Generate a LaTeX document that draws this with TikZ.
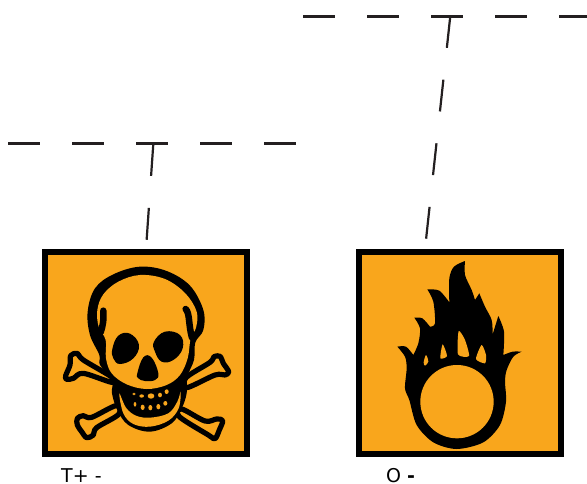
\documentclass[tikz,border=0pt]{standalone}
\usepackage{fontspec}
\setmainfont{DejaVu Sans}
\definecolor{hazardorange}{HTML}{F9A61C}
\definecolor{lineblack}{HTML}{231F20}
\begin{document}
\begin{tikzpicture}
[x=1pt, y=-1pt, font=\fontsize{19}{23}\selectfont]

\tikzstyle{panel}=[rectangle, draw=black, fill=hazardorange, line width=6pt, inner sep=0mm, minimum size=202pt]
\tikzstyle{tag}=[anchor=base west, inner sep=0mm]
\tikzstyle{level}=[draw=lineblack, line width=2.2pt, dash pattern=on 32pt off 32pt]
\tikzstyle{bone}=[draw=black, fill=hazardorange, line width=5.2pt, line join=round]
\tikzstyle{ink}=[fill=black]
\tikzstyle{cut}=[fill=hazardorange]

\useasboundingbox (0,0) rectangle (587,483);

\node[panel]	(Tpanel)	at (146,353)	{};
\node[panel]	(Opanel)	at (460,353)	{};
\node[tag]	(Ttag)	at (61,482.5)	{T+ -};
\node[tag]	(Otag)	at (386,482.5)	{O \textbf{-}};

\coordinate	(TlevelL)	at (8,143.5);
\coordinate	(TlevelR)	at (296,143.5);
\coordinate	(OlevelL)	at (303,16.5);
\coordinate	(OlevelR)	at (587,16.5);
\coordinate	(Tdrop)	at (153.3,144);
\coordinate	(Odrop)	at (450.3,16);
\coordinate	(Oend)	at (425,249);

\draw [level] (TlevelL)--(TlevelR);
\draw [level] (OlevelL)--(OlevelR);
\draw [level] (Tdrop)--(Tpanel.north);
\draw [level] (Odrop)--(Oend);

% skull
\begin{scope}[shift={(40,245)}, scale=1/3]
\path[bone] plot[smooth cycle, tension=.55] coordinates {(77,392) (90,360) (92,332) (112,325) (130,345) (218,398) (215,412) (130,385) (100,400) (80,403)};
\path[bone] plot[smooth cycle, tension=.55] coordinates {(438,398) (510,352) (522,335) (540,334) (550,355) (566,380) (555,390) (525,390) (440,428)};
\path[bone] plot[smooth cycle, tension=.55] coordinates {(112,520) (130,512) (155,517) (228,482) (236,508) (170,548) (160,570) (140,578) (125,560) (112,540)};
\path[bone] plot[smooth cycle, tension=.55] coordinates {(425,492) (495,528) (530,522) (548,527) (538,555) (525,581) (505,570) (418,515)};

\path[ink] plot[smooth cycle, tension=.6] coordinates {(178,330) (150,270) (143,200) (165,130) (220,88) (300,65) (380,78) (450,122) (490,195) (490,255) (466,292) (462,345) (442,395) (440,445) (425,490) (395,535) (330,560) (265,540) (232,495) (216,445) (216,405) (180,360)};
\path[cut] plot[smooth cycle, tension=.6] coordinates {(300,90) (375,102) (436,145) (470,200) (468,248) (452,280) (443,340) (420,390) (380,420) (320,432) (260,418) (215,385) (198,340) (197,285) (176,245) (172,195) (190,148) (235,110)};
\draw[black, line width=6.5pt, line cap=round] (190,197) .. controls (192,225) and (188,245) .. (182,262);
\draw[black, line width=6.5pt, line cap=round] (437,192) .. controls (450,205) and (445,240) .. (456,278);
\path[cut] plot[smooth cycle, tension=.6] coordinates {(238,445) (258,488) (288,512) (330,518) (385,505) (412,470) (422,440) (416,490) (385,527) (330,545) (280,537) (250,505)};

\foreach \tx/\ty/\ta/\tb in {282/447/5/4, 305/453/7/5, 333/453/10/8, 360/450/6/7, 380/440/6/7, 285/478/4/7, 308/487/6/8, 331/488/6/8, 355/485/6/8, 376/475/6/7}
	\path[cut] (\tx,\ty) ellipse [x radius=\ta, y radius=\tb];

\path[ink] plot[smooth cycle, tension=.7] coordinates {(217,312) (235,272) (270,266) (297,300) (280,340) (240,357) (220,340)};
\path[ink] plot[smooth cycle, tension=.7] coordinates {(342,290) (375,260) (420,270) (428,310) (400,345) (365,350) (345,320)};
\path[ink] plot[smooth cycle, tension=.7] coordinates {(292,385) (310,337) (335,338) (355,385) (345,405) (315,408) (295,400)};
\end{scope}

% flame
\begin{scope}[shift={(350,245)}, scale=1/3]
\path[ink] plot[smooth, tension=.5] coordinates {(142,305) (168,305) (190,330)}
	-- plot[smooth, tension=.5] coordinates {(190,330) (205,295) (210,250) (193,218)}
	-- plot[smooth, tension=.5] coordinates {(193,218) (217,220) (240,245)}
	-- plot[smooth, tension=.5] coordinates {(240,245) (255,235) (250,170) (232,133)}
	-- plot[smooth, tension=.5] coordinates {(232,133) (268,137) (298,172)}
	-- plot[smooth, tension=.5] coordinates {(298,172) (298,100) (312,65) (345,48)}
	-- plot[smooth, tension=.5] coordinates {(345,48) (345,90) (365,135) (375,165)}
	-- plot[smooth, tension=.5] coordinates {(375,165) (388,145)}
	-- plot[smooth, tension=.5] coordinates {(388,145) (405,185) (425,225) (428,268)}
	-- plot[smooth, tension=.5] coordinates {(428,268) (445,213)}
	-- plot[smooth, tension=.5] coordinates {(445,213) (462,260) (460,330)}
	-- plot[smooth, tension=.5] coordinates {(460,330) (488,320) (515,320)}
	-- plot[smooth, tension=.5] coordinates {(515,320) (490,335) (470,375) (465,410) (468,470) (450,540) (400,592) (320,612) (250,592) (200,540) (178,465) (165,430) (170,370) (165,335) (142,305)};
\path[cut] (321,470) circle [radius=110];
\path[cut] plot[smooth cycle, tension=.5] coordinates {(221,352) (228,330) (235,350) (225,362)};
\path[cut] plot[smooth cycle, tension=.4] coordinates {(271,340) (278,298) (291,333)};
\path[cut] plot[smooth cycle, tension=.4] coordinates {(324,328) (326,258) (345,285) (357,333)};
\path[cut] plot[smooth cycle, tension=.4] coordinates {(378,342) (395,300) (408,330) (405,355)};
\end{scope}
\end{tikzpicture}
\end{document}
